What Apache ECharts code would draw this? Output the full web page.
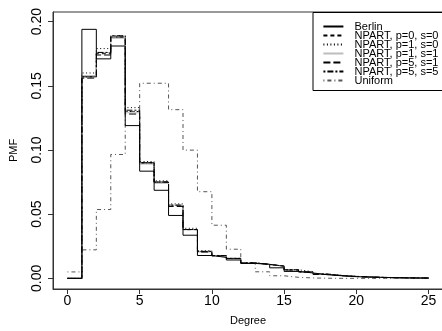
<!DOCTYPE html>
<html><head><meta charset="utf-8">
<script src="https://cdn.jsdelivr.net/npm/echarts@6/dist/echarts.min.js"></script>
<style>html,body{margin:0;padding:0;background:#fff;overflow:hidden;width:442px;height:331px;}#c{width:470px;height:331px;}</style>
</head><body><div id="c"></div>
<script>
// Bin left edges (degree), bins are [d, d+1]
const degrees = [0,1,2,3,4,5,6,7,8,9,10,11,12,13,14,15,16,17,18,19,20,21,22,23,24];
const xTicks = [0,5,10,15,20,25];
const yTicks = [0,0.05,0.10,0.15,0.20];
const seriesNames = ['Berlin','NPART, p=0, s=0','NPART, p=1, s=0','NPART, p=1, s=1','NPART, p=5, s=1','NPART, p=5, s=5','Uniform'];

const berlin   = [0, 0.194, 0.171, 0.181, 0.119, 0.0835, 0.0686, 0.049, 0.0336, 0.0178, 0.0163, 0.0143, 0.0116, 0.0110, 0.0082, 0.0054, 0.0042, 0.0028, 0.0020, 0.0013, 0.0010, 0.0007, 0.0005, 0.0003, 0.0002];
const npart_p0s0 = [0, 0.157, 0.175, 0.188, 0.130, 0.090, 0.075, 0.057, 0.038, 0.0210, 0.0176, 0.0155, 0.0120, 0.0108, 0.0095, 0.0066, 0.0050, 0.0032, 0.0022, 0.0015, 0.0010, 0.0007, 0.0005, 0.0003, 0.0002];
const npart_p1s0 = [0, 0.160, 0.179, 0.189, 0.133, 0.091, 0.076, 0.058, 0.039, 0.0215, 0.0178, 0.0154, 0.0121, 0.0107, 0.0097, 0.0067, 0.0052, 0.0034, 0.0023, 0.0016, 0.0011, 0.0007, 0.0005, 0.0003, 0.0002];
const npart_p1s1 = [0, 0.158, 0.176, 0.187, 0.129, 0.089, 0.074, 0.057, 0.038, 0.0205, 0.0175, 0.0153, 0.0119, 0.0108, 0.0094, 0.0066, 0.0050, 0.0032, 0.0022, 0.0015, 0.0010, 0.0007, 0.0005, 0.0003, 0.0002];
const npart_p5s1 = [0, 0.156, 0.174, 0.188, 0.128, 0.090, 0.075, 0.056, 0.038, 0.0205, 0.0176, 0.0155, 0.0120, 0.0109, 0.0095, 0.0065, 0.0049, 0.0031, 0.0021, 0.0014, 0.0010, 0.0006, 0.0004, 0.0003, 0.0002];
const npart_p5s5 = [0, 0.157, 0.176, 0.189, 0.131, 0.090, 0.075, 0.057, 0.038, 0.0210, 0.0177, 0.0156, 0.0121, 0.0108, 0.0096, 0.0067, 0.0051, 0.0033, 0.0022, 0.0015, 0.0010, 0.0007, 0.0005, 0.0003, 0.0002];
const uniform  = [0.005, 0.0222, 0.0536, 0.0965, 0.130, 0.152, 0.152, 0.1314, 0.0999, 0.0675, 0.0414, 0.0227, 0.0120, 0.0051, 0.0020, 0.0008, 0.0003, 0.0001, 0, 0, 0, 0, 0, 0, 0];

const values = [berlin, npart_p0s0, npart_p1s0, npart_p1s1, npart_p5s1, npart_p5s5, uniform];
const styles = [
  {color:'#000', type:'solid'},
  {color:'#000', type:[4,3]},
  {color:'#000', type:[1,2.5]},
  {color:'#bdbdbd', type:'solid'},
  {color:'#000', type:[7,3]},
  {color:'#000', type:[2,2,6,2]},
  {color:'#555', type:[1,3,4,3]}
];

function steps(arr){
  const pts = [];
  degrees.forEach((d,i)=>{ pts.push([d, arr[i]]); pts.push([d+1, arr[i]]); });
  return pts;
}

const font = 'Liberation Sans, Arial, Helvetica, sans-serif';
const chart = echarts.init(document.getElementById('c'), null, {renderer:'canvas'});
chart.setOption({
  animation:false,
  backgroundColor:'#fff',
  grid:{left:49, top:12, width:394, height:278, show:true, borderColor:'#333', borderWidth:1, containLabel:false},
  xAxis:{
    type:'value', min:-1, max:26,
    name:'Degree', nameLocation:'middle', nameGap:26,
    nameTextStyle:{fontFamily:font, fontSize:11, color:'#000'},
    axisLine:{show:true, onZero:false, lineStyle:{color:'#333', width:1}},
    axisTick:{show:true, inside:false, length:5, customValues:xTicks, lineStyle:{color:'#333'}},
    axisLabel:{show:true, customValues:xTicks, margin:5, fontFamily:font, fontSize:14, color:'#000'},
    splitLine:{show:false}
  },
  yAxis:{
    type:'value', min:-0.0083, max:0.2075,
    name:'PMF', nameLocation:'middle', nameGap:34, nameRotate:90,
    nameTextStyle:{fontFamily:font, fontSize:11, color:'#000'},
    axisLine:{show:true, onZero:false, lineStyle:{color:'#333', width:1}},
    axisTick:{show:true, inside:false, length:5, customValues:yTicks, lineStyle:{color:'#333'}},
    axisLabel:{show:true, customValues:yTicks, rotate:90, margin:9, fontFamily:font, fontSize:14, color:'#000',
      formatter:(v)=>v.toFixed(2)},
    splitLine:{show:false}
  },
  legend:{
    show:true,
    orient:'vertical', left:313, top:12.5,
    data:seriesNames,
    formatter:(n)=>'  ' + n,
    itemWidth:20, itemHeight:9, itemGap:-2,
    padding:[8.5,12,4.5,9.4],
    borderColor:'#000', borderWidth:1, backgroundColor:'#fff',
    itemStyle:{opacity:0},
    textStyle:{fontFamily:font, fontSize:11, color:'#000'},
    selectedMode:false
  },
  series: seriesNames.map((n,i)=>({
    name:n, type:'line', data:steps(values[i]), symbol:'none', silent:true,
    lineStyle:{color:styles[i].color, type:styles[i].type, width:1},
    itemStyle:{color:styles[i].color},
    z: i===0 ? 10 : 5
  }))
});
</script></body></html>
